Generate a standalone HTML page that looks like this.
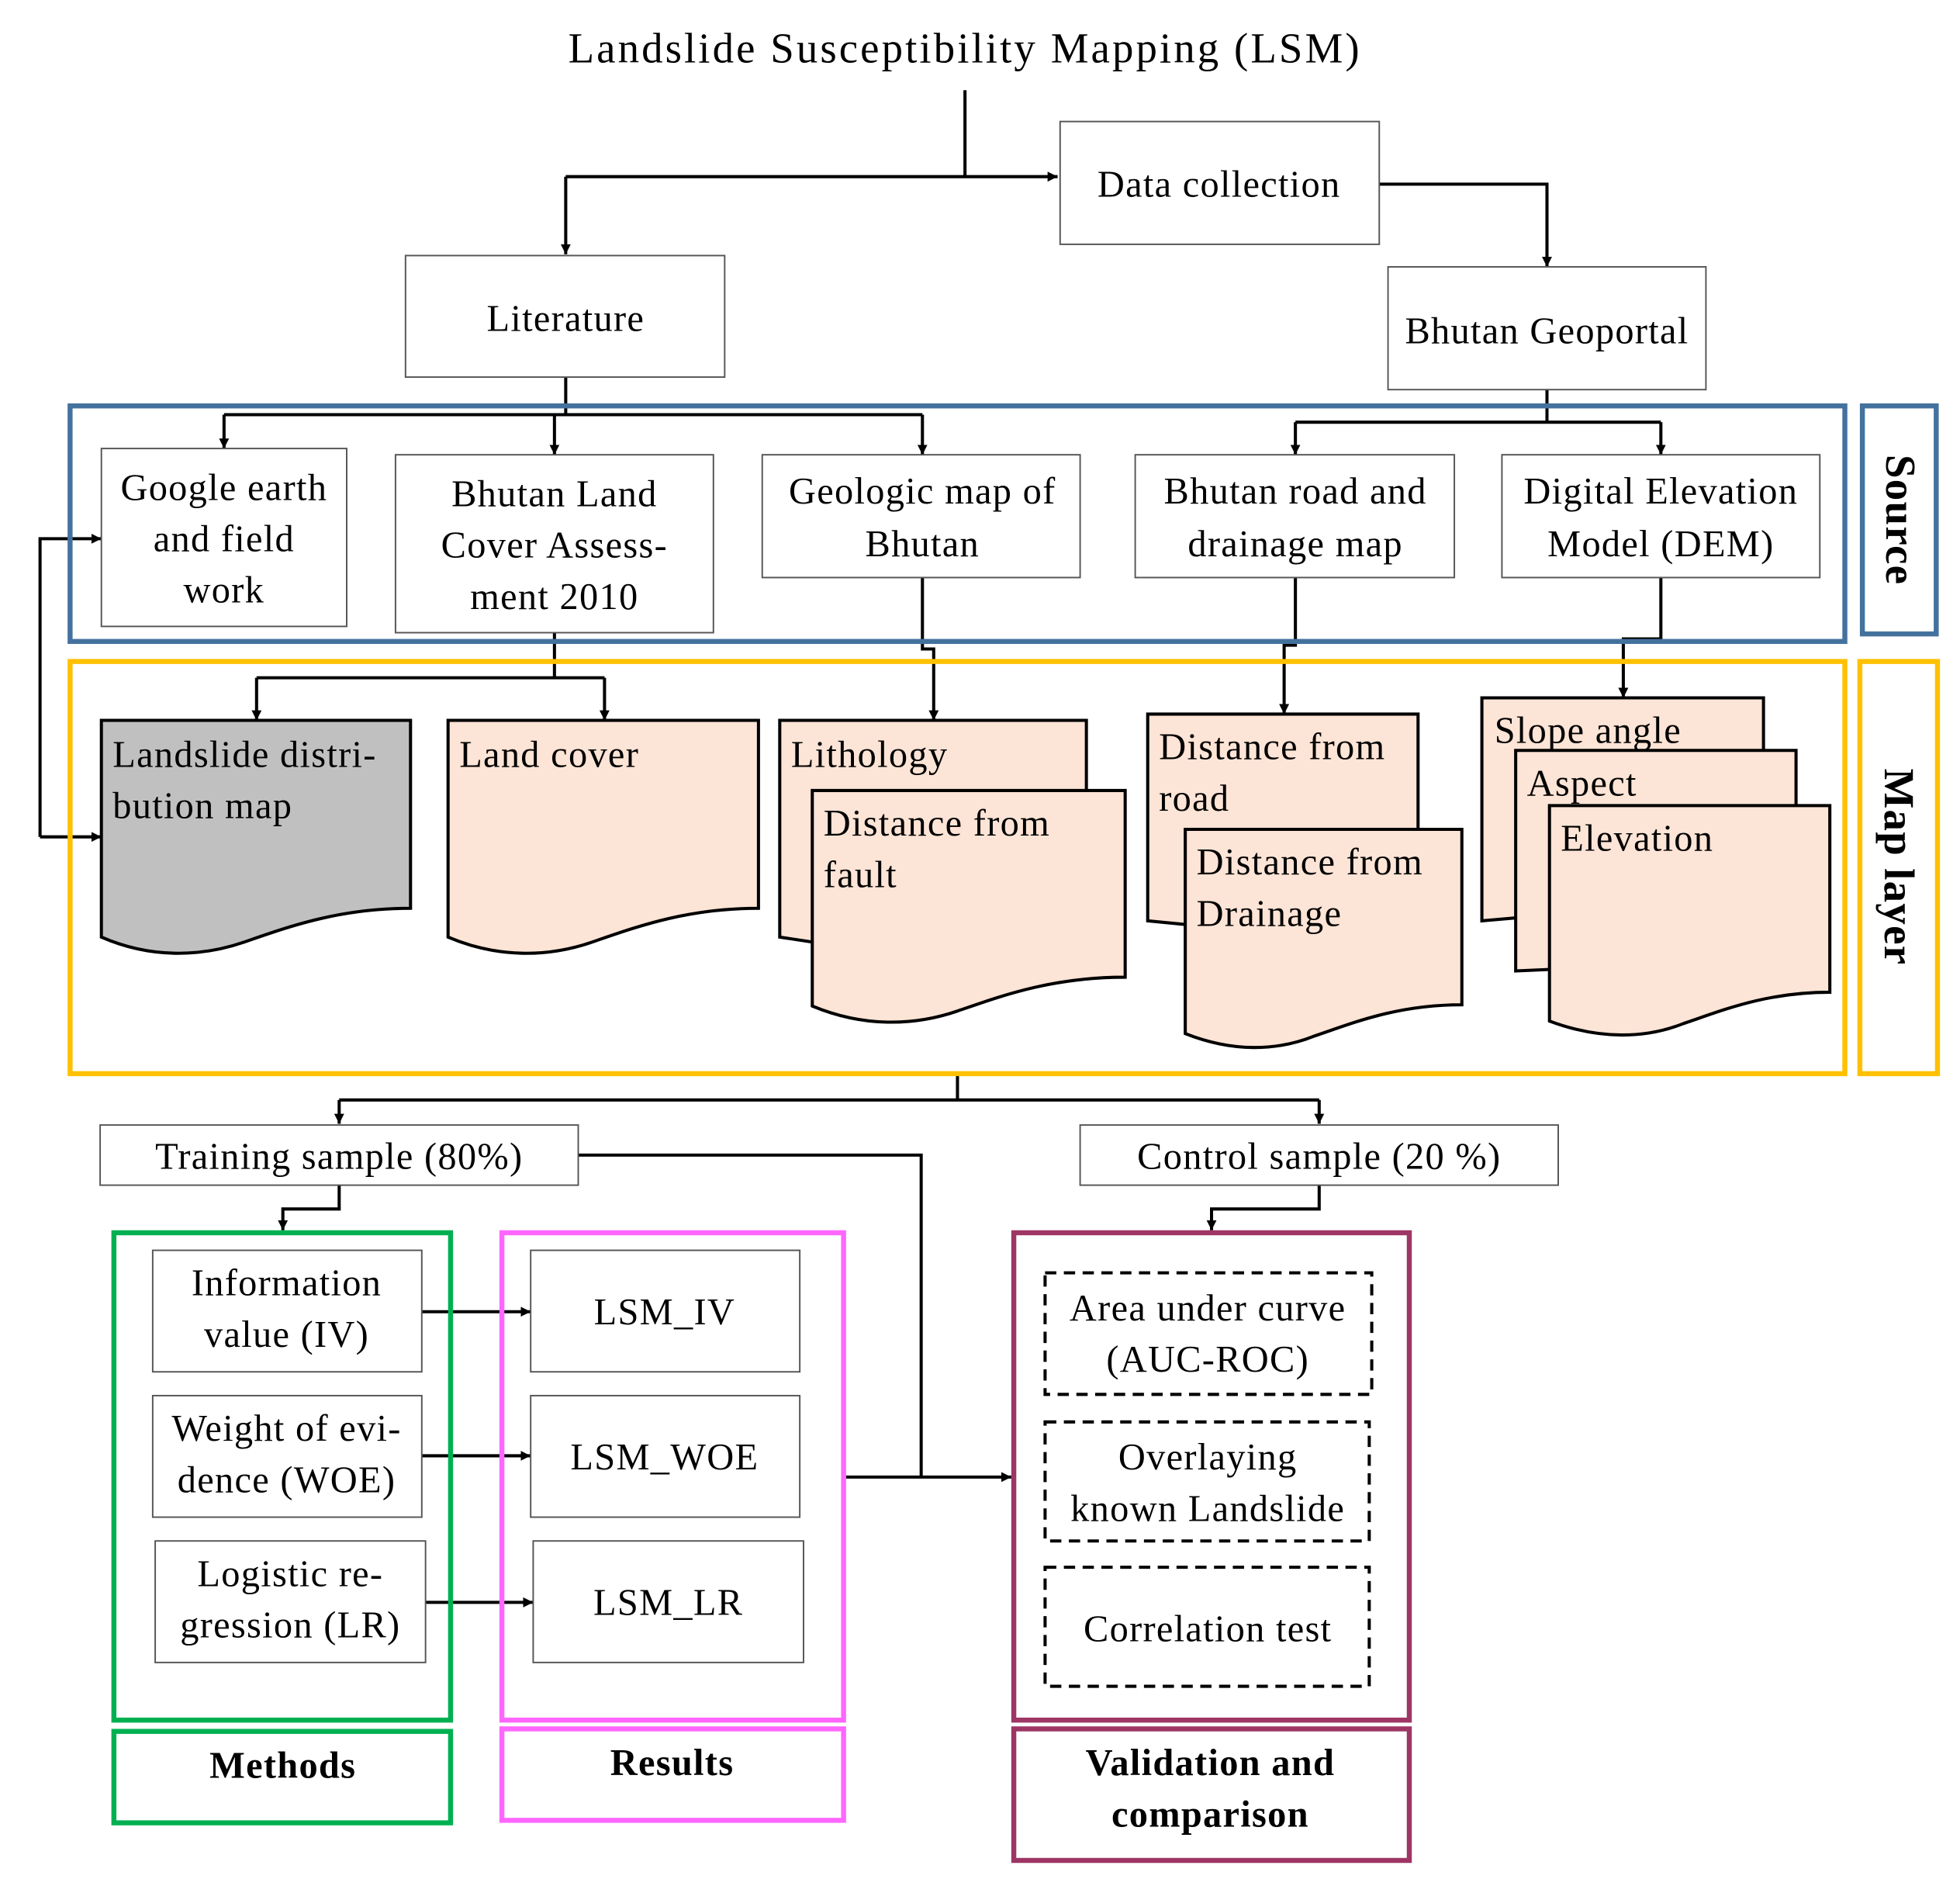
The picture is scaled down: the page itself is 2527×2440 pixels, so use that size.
<!DOCTYPE html>
<html><head><meta charset="utf-8"><style>
html,body{margin:0;padding:0;background:#fff;}
svg{display:block;}
text{font-family:"Liberation Serif",serif;fill:#000;letter-spacing:0.8px;}
</style></head><body>
<svg width="2527" height="2440" viewBox="0 0 1566 1511" preserveAspectRatio="none" xmlns="http://www.w3.org/2000/svg">
<defs>
<marker id="a" viewBox="0 0 10 10" refX="10" refY="5" markerWidth="8" markerHeight="8" markerUnits="userSpaceOnUse" orient="auto"><path d="M0,0 L10,5 L0,10 z" fill="#000"/></marker>
</defs>
<rect width="1566" height="1511" fill="#fff"/>
<g font-size="30" text-anchor="middle">
<text x="771" y="50" font-size="34" style="letter-spacing:1.9px">Landslide Susceptibility Mapping (LSM)</text>
</g>
<g stroke="#000" stroke-width="2.5" fill="none">
<path d="M771,72 V141"/>
<path d="M452,141 H845" marker-end="url(#a)"/>
<path d="M452,141 V203" marker-end="url(#a)"/>
<path d="M1102,147 H1236 V213" marker-end="url(#a)"/>
<path d="M452,301 V331"/>
<path d="M179,331 H737"/>
<path d="M179,331 V358" marker-end="url(#a)"/>
<path d="M443,331 V363" marker-end="url(#a)"/>
<path d="M737,331 V363" marker-end="url(#a)"/>
<path d="M1236,311 V337"/>
<path d="M1035,337 H1327"/>
<path d="M1035,337 V363" marker-end="url(#a)"/>
<path d="M1327,337 V363" marker-end="url(#a)"/>
<path d="M443,505 V541"/>
<path d="M205,541 H483"/>
<path d="M205,541 V575" marker-end="url(#a)"/>
<path d="M483,541 V575" marker-end="url(#a)"/>
<path d="M737,461 V518 H746 V575" marker-end="url(#a)"/>
<path d="M1035,461 V515 H1026 V570" marker-end="url(#a)"/>
<path d="M1327,461 V510 H1297 V557" marker-end="url(#a)"/>
<path d="M32,668 V430 H81" marker-end="url(#a)"/>
<path d="M32,668 H81" marker-end="url(#a)"/>
<path d="M765,857 V878"/>
<path d="M271,878 H1054"/>
<path d="M271,878 V897" marker-end="url(#a)"/>
<path d="M1054,878 V897" marker-end="url(#a)"/>
<path d="M271,946 V965 H226 V982" marker-end="url(#a)"/>
<path d="M1054,946 V965 H968 V982" marker-end="url(#a)"/>
<path d="M462,922 H736 V1179"/>
<path d="M676,1179 H808" marker-end="url(#a)"/>
<path d="M337,1047 H424" marker-end="url(#a)"/>
<path d="M337,1162 H424" marker-end="url(#a)"/>
<path d="M340,1279 H426" marker-end="url(#a)"/>
</g>
<g stroke="#555" stroke-width="1.2" fill="#fff">
<rect x="847" y="97" width="255" height="98"/>
<rect x="324" y="204" width="255" height="97"/>
<rect x="1109" y="213" width="254" height="98"/>
<rect x="81" y="358" width="196" height="142"/>
<rect x="316" y="363" width="254" height="142"/>
<rect x="609" y="363" width="254" height="98"/>
<rect x="907" y="363" width="255" height="98"/>
<rect x="1200" y="363" width="254" height="98"/>
<rect x="80" y="898" width="382" height="48"/>
<rect x="863" y="898" width="382" height="48"/>
<rect x="122" y="998" width="215" height="97"/>
<rect x="122" y="1114" width="215" height="97"/>
<rect x="124" y="1230" width="216" height="97"/>
<rect x="424" y="998" width="215" height="97"/>
<rect x="424" y="1114" width="215" height="97"/>
<rect x="426" y="1230" width="216" height="97"/>
</g>
<g fill="none" stroke-width="4">
<rect x="56" y="324" width="1418" height="188" stroke="#44729E"/>
<rect x="1488" y="324" width="59" height="182" stroke="#44729E"/>
<rect x="56" y="528" width="1418" height="329" stroke="#FFC000"/>
<rect x="1486" y="528" width="62" height="329" stroke="#FFC000"/>
<rect x="91" y="984" width="269" height="389" stroke="#00B050"/>
<rect x="91" y="1382" width="269" height="73" stroke="#00B050"/>
<rect x="401" y="984" width="273" height="389" stroke="#FF66FF"/>
<rect x="401" y="1380" width="273" height="73" stroke="#FF66FF"/>
<rect x="810" y="984" width="316" height="389" stroke="#9E3564"/>
<rect x="810" y="1380" width="316" height="105" stroke="#9E3564"/>
</g>
<g fill="none" stroke="#000" stroke-width="2.5" stroke-dasharray="9,6">
<rect x="835" y="1016" width="261" height="97"/>
<rect x="835" y="1135" width="259" height="95"/>
<rect x="835" y="1251" width="259" height="95"/>
</g>
<g stroke="#000" stroke-width="2.5" fill="#FCE4D6">
<path d="M81,575 H328 V725 C270,725 230,740 195,752 C160,764 120,765 81,748 Z" fill="#C0C0C0"/>
<path d="M358,575 H606 V725 C548,725 508,740 473,752 C438,764 398,765 358,748 Z"/>
<path d="M623,575 H868 V720 L868,740 C810,740 770,755 735,765 L623,748 Z"/>
<path d="M649,631 H899 V780 C840,780 800,795 765,807 C730,819 690,820 649,803 Z"/>
<path d="M917,570 H1133 V720 C1080,720 1050,735 1020,745 L917,735 Z"/>
<path d="M947,662 H1168 V802 C1115,802 1080,817 1050,827 C1020,839 985,840 947,825 Z"/>
<path d="M1184,557 H1409 V700 C1360,700 1330,715 1300,725 L1184,735 Z"/>
<path d="M1211,599 H1435 V745 C1385,745 1355,760 1325,770 L1211,775 Z"/>
<path d="M1238,643 H1462 V792 C1410,792 1375,807 1345,817 C1315,829 1278,830 1238,815 Z"/>
</g>
<g font-size="30">
<text x="90" y="612">Landslide distri-</text>
<text x="90" y="653">bution map</text>
<text x="367" y="612">Land cover</text>
<text x="632" y="612">Lithology</text>
<text x="658" y="667">Distance from</text>
<text x="658" y="708">fault</text>
<text x="926" y="606">Distance from</text>
<text x="926" y="647">road</text>
<text x="956" y="698">Distance from</text>
<text x="956" y="739">Drainage</text>
<text x="1194" y="593">Slope angle</text>
<text x="1220" y="635">Aspect</text>
<text x="1247" y="679">Elevation</text>
</g>
<g font-size="30" text-anchor="middle">
<text x="974" y="157">Data collection</text>
<text x="452" y="264">Literature</text>
<text x="1236" y="274">Bhutan Geoportal</text>
<text x="179" y="399">Google earth</text>
<text x="179" y="440">and field</text>
<text x="179" y="481">work</text>
<text x="443" y="404">Bhutan Land</text>
<text x="443" y="445">Cover Assess-</text>
<text x="443" y="486">ment 2010</text>
<text x="737" y="402">Geologic map of</text>
<text x="737" y="444">Bhutan</text>
<text x="1035" y="402">Bhutan road and</text>
<text x="1035" y="444">drainage map</text>
<text x="1327" y="402">Digital Elevation</text>
<text x="1327" y="444">Model (DEM)</text>
<text x="271" y="933">Training sample (80%)</text>
<text x="1054" y="933">Control sample (20 %)</text>
<text x="229" y="1034">Information</text>
<text x="229" y="1075">value (IV)</text>
<text x="229" y="1150">Weight of evi-</text>
<text x="229" y="1191">dence (WOE)</text>
<text x="232" y="1266">Logistic re-</text>
<text x="232" y="1307">gression (LR)</text>
<text x="531" y="1057">LSM_IV</text>
<text x="531" y="1173">LSM_WOE</text>
<text x="534" y="1289">LSM_LR</text>
<text x="965" y="1054">Area under curve</text>
<text x="965" y="1095">(AUC-ROC)</text>
<text x="965" y="1173">Overlaying</text>
<text x="965" y="1214">known Landslide</text>
<text x="965" y="1310">Correlation test</text>
</g>
<g font-size="30" font-weight="bold" text-anchor="middle" style="letter-spacing:1.2px">
<text x="226" y="1419">Methods</text>
<text x="537" y="1417">Results</text>
<text x="967" y="1417">Validation and</text>
<text x="967" y="1458">comparison</text>
<text transform="translate(1507,415) rotate(90)" font-size="34">Source</text>
<text transform="translate(1506,692) rotate(90)" font-size="34">Map layer</text>
</g>
</svg>
</body></html>
